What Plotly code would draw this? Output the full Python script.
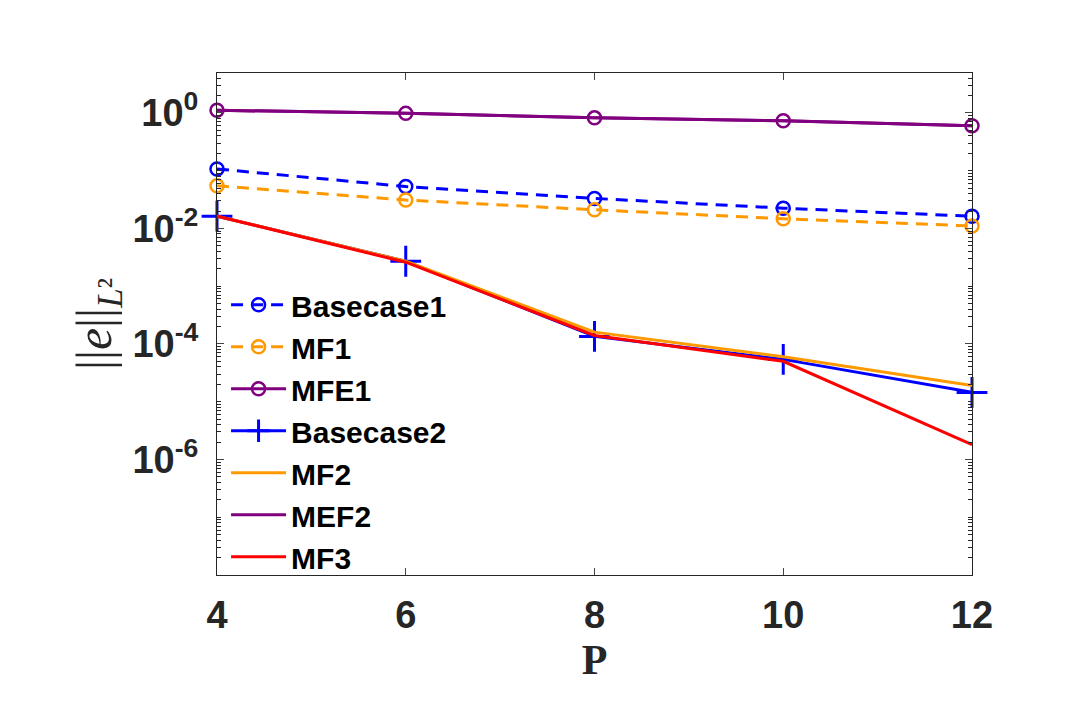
import plotly.graph_objects as go

P = [4, 6, 8, 10, 12]

basecase1 = [0.107, 0.053, 0.033, 0.0224, 0.0162]
mf1 = [0.0545, 0.031, 0.021, 0.0147, 0.011]
mfe1 = [1.11, 0.98, 0.82, 0.73, 0.60]
basecase2 = [0.0163, 0.0027, 1.35e-4, 5.4e-5, 1.45e-5]
mf2 = [0.0163, 0.0027, 1.6e-4, 6.0e-5, 1.9e-5]
mef2 = [1.11, 0.98, 0.82, 0.73, 0.60]
mf3 = [0.0163, 0.0026, 1.4e-4, 5.0e-5, 1.8e-6]

ytick_vals = [1e-6, 1e-4, 1e-2, 1]
ytick_text = ["10<sup>-6</sup>", "10<sup>-4</sup>", "10<sup>-2</sup>", "10<sup>0</sup>"]

blue = "#0000ff"
orange = "#ff9900"
purple = "#800080"
red = "#ff0000"

fig = go.Figure()

# dashed with open circles
for name, vals, col in [("Basecase1", basecase1, blue), ("MF1", mf1, orange), ("MFE1", mfe1, purple)]:
    dash = "12px,8px" if name != "MFE1" else "solid"
    fig.add_trace(go.Scatter(
        x=P, y=vals, name=name, mode="lines+markers", cliponaxis=False,
        line=dict(color=col, width=3, dash=dash),
        marker=dict(symbol="circle-open", size=13, color=col, line=dict(width=2.5, color=col)),
    ))

fig.add_trace(go.Scatter(
    x=P, y=basecase2, name="Basecase2", mode="lines+markers", cliponaxis=False,
    line=dict(color=blue, width=3),
    marker=dict(symbol="cross-thin", size=22, color=blue, line=dict(width=3, color=blue)),
))
fig.add_trace(go.Scatter(x=P, y=mf2, name="MF2", mode="lines", line=dict(color=orange, width=3)))
fig.add_trace(go.Scatter(x=P, y=mef2, name="MEF2", mode="lines", line=dict(color=purple, width=3)))
fig.add_trace(go.Scatter(x=P, y=mf3, name="MF3", mode="lines", line=dict(color=red, width=3)))

tickfont = dict(family="Liberation Sans, Arial", size=38, color="#262626", weight="bold")

fig.update_layout(
    width=1080, height=720,
    margin=dict(l=209, r=116, t=65, b=153),
    plot_bgcolor="white", paper_bgcolor="white",
    showlegend=True,
    legend=dict(
        x=0.012, y=0.59, xanchor="left", yanchor="top",
        bgcolor="rgba(0,0,0,0)", itemwidth=55,
        font=dict(family="Liberation Sans, Arial", size=30, color="black", weight="bold"),
    ),
    xaxis=dict(
        range=[4, 12], tickvals=P, ticks="inside", ticklen=7, ticklabelstandoff=6,
        showline=True, linecolor="#262626", linewidth=1, mirror="ticks",
        showgrid=False, zeroline=False,
        tickfont=tickfont,
        title=dict(text="P", font=dict(family="Liberation Serif, Times New Roman", size=42, color="#262626", weight="bold"), standoff=10),
    ),
    yaxis=dict(
        type="log", range=[-8, 0.69], tickvals=ytick_vals, ticktext=ytick_text,
        ticks="inside", ticklen=7, ticklabelstandoff=10,
        minor=dict(dtick="D1", ticks="inside", ticklen=4, tickcolor="#262626", showgrid=False),
        showline=True, linecolor="#262626", linewidth=1, mirror="ticks",
        showgrid=False, zeroline=False,
        tickfont=tickfont,
        title=dict(text="||<i>e</i>||<sub><i>L</i>²</sub>", font=dict(family="Liberation Serif, Times New Roman", size=50, color="#262626"), standoff=4),
    ),
)

fig.write_html("out.html")
